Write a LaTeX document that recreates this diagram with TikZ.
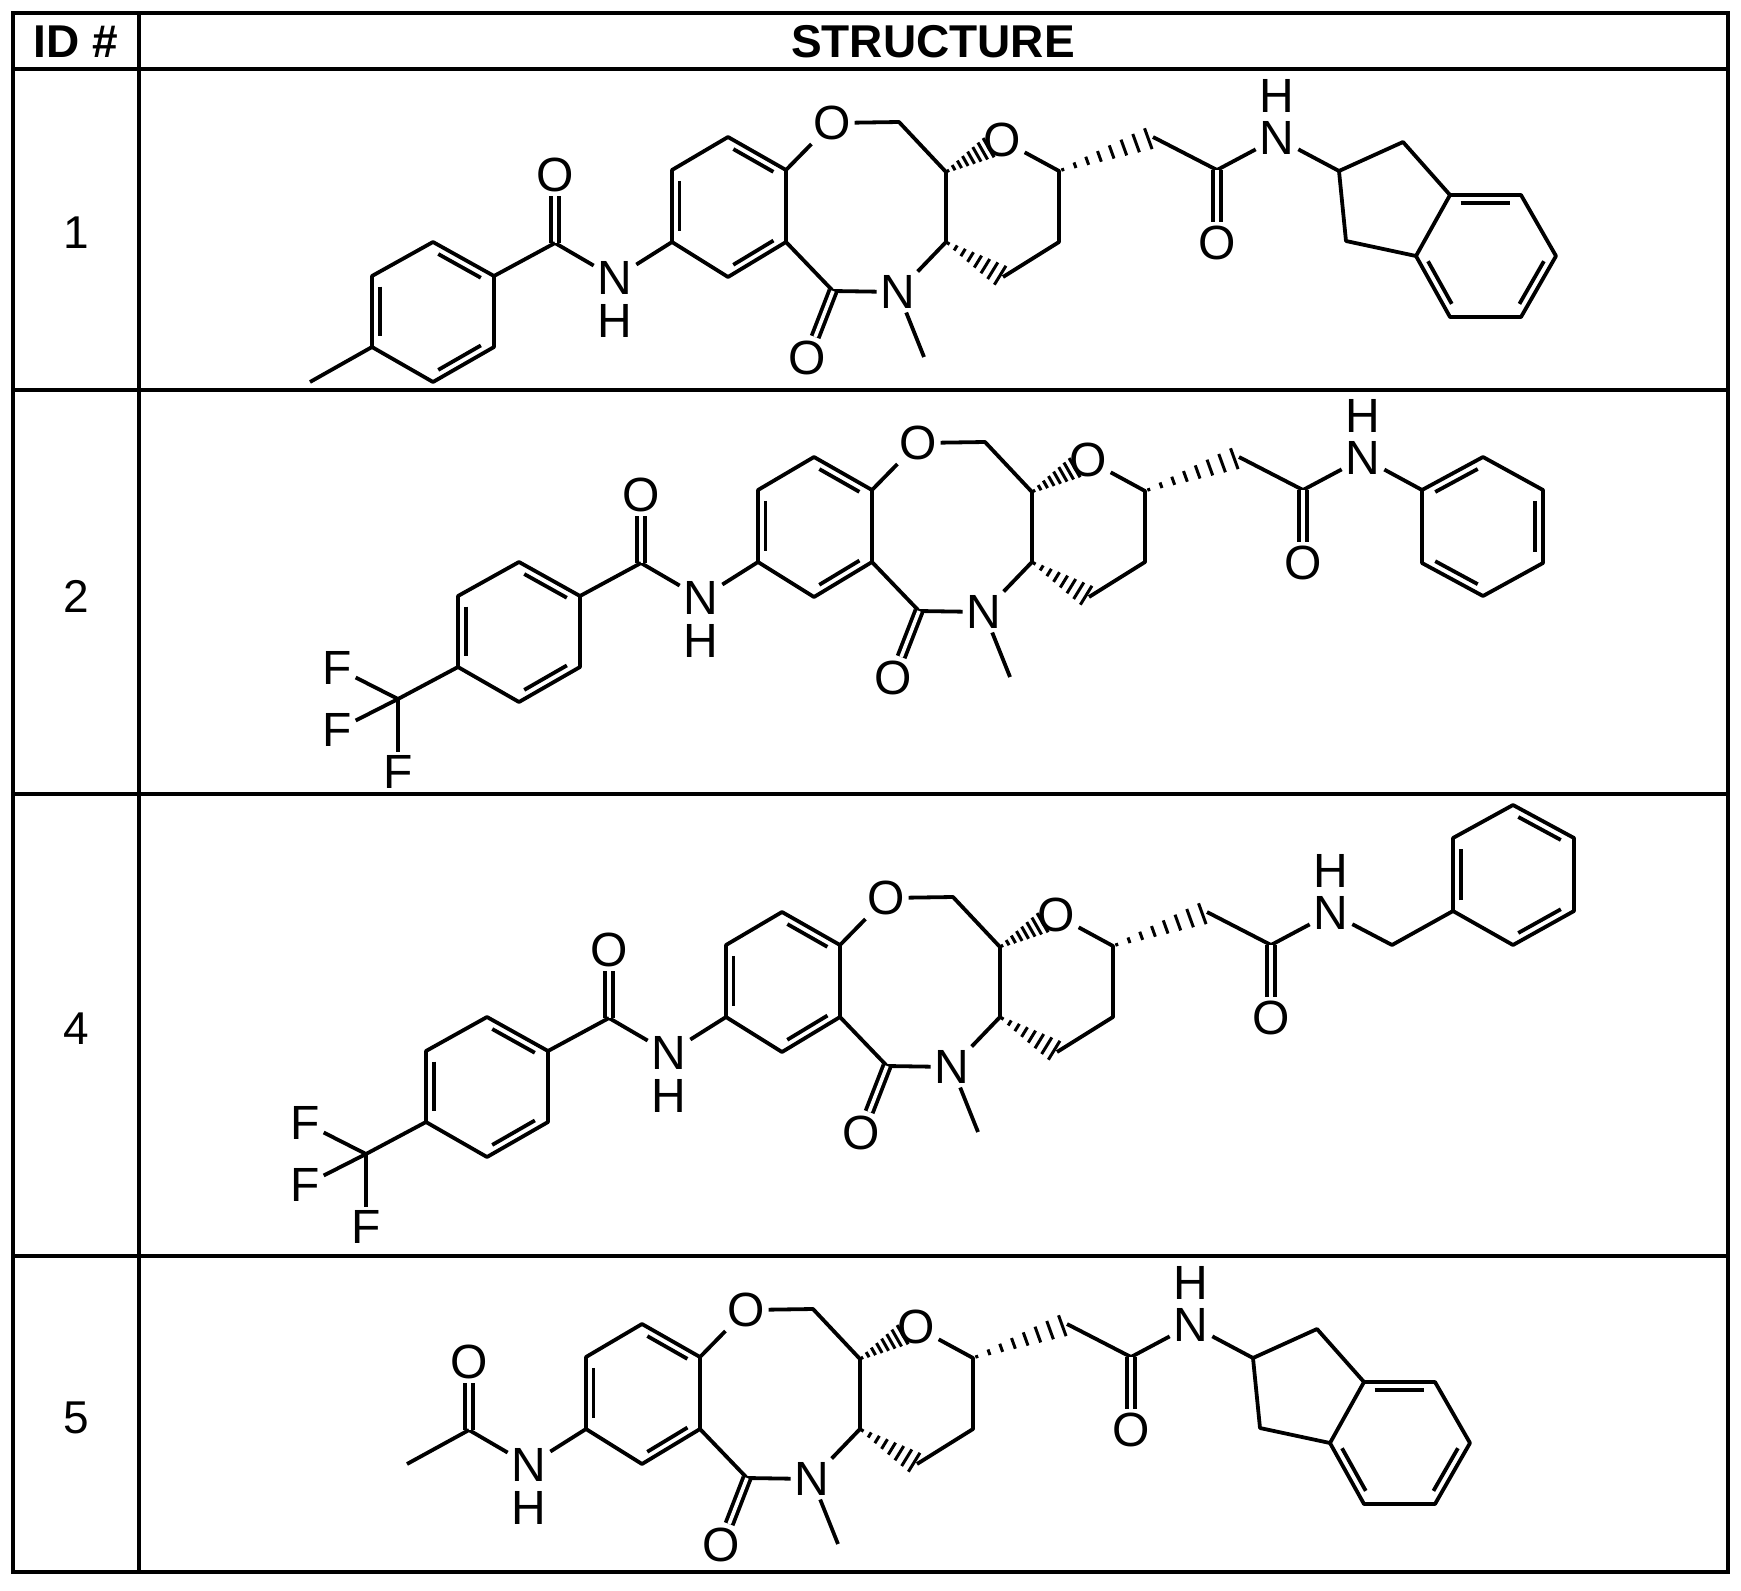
\documentclass[tikz,border=0pt]{standalone}
\usepackage{fontspec}
\setmainfont{Liberation Sans}
\usetikzlibrary{calc}
\tikzset{
  bond/.style={line width=1.9pt, line join=round},
  dbl/.style={line width=1.9pt, double, double distance=1.8pt},
  atom/.style={font=\fontsize{24}{24}\selectfont, inner sep=0pt, outer sep=2pt},
  hatom/.style={font=\fontsize{24}{24}\selectfont, inner sep=0pt, outer sep=0pt},
  grid/.style={line width=2.2pt},
  hdr/.style={font=\fontsize{23}{23}\selectfont\bfseries},
  idn/.style={font=\fontsize{23}{23}\selectfont}
}
\newcommand\hashw[2]{\foreach \t in {0.04,0.17,0.30,0.43,0.56,0.69,0.82,0.95}{%
  \pgfmathsetmacro\w{0.6+5.2*\t}%
  \draw[line width=1.5pt] ($(#1)!\t!(#2)!\w pt!90:(#2)$) -- ($(#1)!\t!(#2)!\w pt!-90:(#2)$);}}
\newcommand\rdb[3]{\draw[bond,shorten <=3pt,shorten >=3pt] ($(#1)!0.13!(#3)$) -- ($(#2)!0.13!(#3)$);}
% core of every molecule (coordinates in the frame of molecule 1)
\newcommand\coreMol{%
  \coordinate (b1) at (728,137); \coordinate (b2) at (672,170);
  \coordinate (b3) at (672,242); \coordinate (b4) at (728,277);
  \coordinate (b5) at (786,242); \coordinate (b6) at (786,170);
  \coordinate (bc) at (729,207);
  \draw[bond] (b1)--(b2)--(b3)--(b4)--(b5)--(b6)--cycle;
  \rdb{b1}{b6}{bc}\rdb{b2}{b3}{bc}\rdb{b4}{b5}{bc}
  \node[atom] (o1) at (832,123) {O};
  \coordinate (ch2) at (899,122); \coordinate (ca) at (946,172);
  \coordinate (cb) at (946,242);
  \node[atom] (n1) at (898,292) {N};
  \coordinate (me) at (924,357); \coordinate (cco) at (833,291);
  \node[atom] (oco) at (807,358) {O};
  \node[atom] (o2) at (1002,140) {O};
  \coordinate (c6) at (1059,171); \coordinate (c5) at (1059,242);
  \coordinate (c4) at (1003,277); \coordinate (ch2b) at (1153,137);
  \coordinate (cam) at (1217,170);
  \node[atom] (oam) at (1217,243) {O};
  \node[atom] (nam) at (1277,138) {N};
  \node[hatom] (ham) at (1277,96) {H};
  \node[atom] (nl) at (615,278) {N};
  \node[hatom] (hl) at (615,321) {H};
  \coordinate (cl) at (555,243);
  \node[atom] (ol) at (555,175) {O};
  \draw[bond] (b6)--(o1)--(ch2)--(ca)--(cb)--(n1)--(cco)--(b5);
  \draw[bond] (n1)--(me);
  \draw[dbl] (cco)--(oco);
  \draw[bond] (o2)--(c6)--(c5)--(c4);
  \coordinate (wa) at ($(ca)!0.8!(o2)$);
  \hashw{ca}{wa}\hashw{cb}{c4}\hashw{c6}{ch2b}
  \draw[bond] (ch2b)--(cam)--(nam);
  \draw[dbl] (cam)--(oam);
  \draw[bond] (b3)--(nl)--(cl);
  \draw[dbl] (cl)--(ol);
}
\newcommand\arylPart{%
  \coordinate (r1) at (494,276); \coordinate (r2) at (433,242);
  \coordinate (r3) at (372,276); \coordinate (r4) at (372,347);
  \coordinate (r5) at (433,382); \coordinate (r6) at (494,347);
  \coordinate (rc) at (433,312);
  \draw[bond] (cl)--(r1);
  \draw[bond] (r1)--(r2)--(r3)--(r4)--(r5)--(r6)--cycle;
  \rdb{r1}{r2}{rc}\rdb{r3}{r4}{rc}\rdb{r5}{r6}{rc}
}
\newcommand\cfthree{%
  \coordinate (cf) at (312,379);
  \node[atom] (f1) at (251,348) {F};
  \node[atom] (f2) at (251,410) {F};
  \node[atom] (f3) at (312,452) {F};
  \draw[bond] (r4)--(cf);
  \draw[bond] (cf)--(f1); \draw[bond] (cf)--(f2); \draw[bond] (cf)--(f3);
}
\newcommand\indanePart{%
  \coordinate (i1) at (1339,171); \coordinate (i2) at (1403,142);
  \coordinate (i3) at (1450,195); \coordinate (i4) at (1416,256);
  \coordinate (i5) at (1346,241); \coordinate (i6) at (1521,195);
  \coordinate (i7) at (1556,256); \coordinate (i8) at (1521,317);
  \coordinate (i9) at (1450,317); \coordinate (ic) at (1486,256);
  \draw[bond] (nam)--(i1);
  \draw[bond] (i1)--(i2)--(i3)--(i4)--(i5)--cycle;
  \draw[bond] (i3)--(i6)--(i7)--(i8)--(i9)--(i4);
  \rdb{i3}{i6}{ic}\rdb{i7}{i8}{ic}\rdb{i9}{i4}{ic}
}
\begin{document}
\begin{tikzpicture}[x=0.5pt,y=-0.5pt]
\useasboundingbox (0,0) rectangle (1741,1591);
% table
\draw[grid] (13,13) rectangle (1728,1572);
\draw[grid] (139,13) -- (139,1572);
\draw[grid] (13,69) -- (1728,69);
\draw[grid] (13,390) -- (1728,390);
\draw[grid] (13,794) -- (1728,794);
\draw[grid] (13,1256) -- (1728,1256);
\node[hdr] (hid) at (76,42) {ID \#};
\node[hdr] (hst) at (933,42) {STRUCTURE};
\node[idn] (id1) at (76,233) {1};
\node[idn] (id2) at (76,596) {2};
\node[idn] (id4) at (76,1029) {4};
\node[idn] (id5) at (76,1418) {5};
% molecule 1
\begin{scope}
  \coreMol \arylPart
  \coordinate (mt) at (310,382);
  \draw[bond] (r4)--(mt);
  \indanePart
\end{scope}
% molecule 2
\begin{scope}[shift={(86,320)}]
  \coreMol \arylPart \cfthree
  \coordinate (p1) at (1336,170); \coordinate (p2) at (1397,137);
  \coordinate (p3) at (1457,170); \coordinate (p4) at (1457,243);
  \coordinate (p5) at (1397,276); \coordinate (p6) at (1336,243);
  \coordinate (pc) at (1397,207);
  \draw[bond] (nam)--(p1);
  \draw[bond] (p1)--(p2)--(p3)--(p4)--(p5)--(p6)--cycle;
  \rdb{p1}{p2}{pc}\rdb{p3}{p4}{pc}\rdb{p5}{p6}{pc}
\end{scope}
% molecule 4
\begin{scope}[shift={(54,775)}]
  \coreMol \arylPart \cfthree
  \coordinate (bz) at (1338,170);
  \coordinate (q1) at (1399,136); \coordinate (q2) at (1399,63);
  \coordinate (q3) at (1459,30); \coordinate (q4) at (1520,63);
  \coordinate (q5) at (1520,136); \coordinate (q6) at (1459,170);
  \coordinate (qc) at (1459,100);
  \draw[bond] (nam)--(bz)--(q1);
  \draw[bond] (q1)--(q2)--(q3)--(q4)--(q5)--(q6)--cycle;
  \rdb{q1}{q2}{qc}\rdb{q3}{q4}{qc}\rdb{q5}{q6}{qc}
\end{scope}
% molecule 5
\begin{scope}[shift={(-86,1187)}]
  \coreMol
  \coordinate (am) at (493,277);
  \draw[bond] (cl)--(am);
  \indanePart
\end{scope}
\end{tikzpicture}
\end{document}
